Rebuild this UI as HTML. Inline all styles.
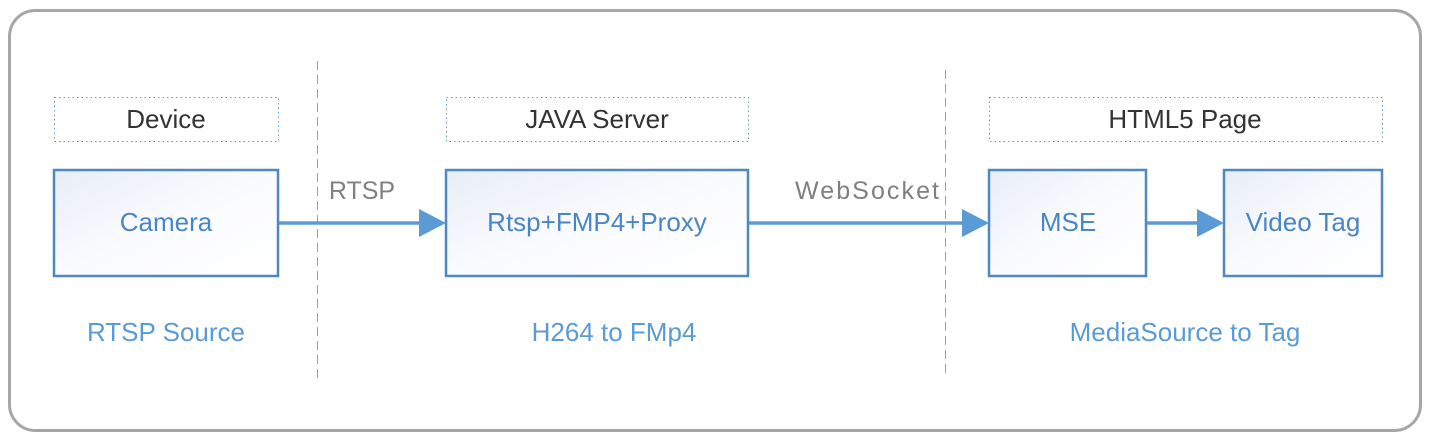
<!DOCTYPE html>
<html><head><meta charset="utf-8"><style>
html,body{margin:0;padding:0;background:#fff;}
svg{display:block;}
text{font-family:"Liberation Sans",sans-serif;}
</style></head><body>
<svg width="1437" height="444" viewBox="0 0 1437 444" xmlns="http://www.w3.org/2000/svg">
<defs>
<linearGradient id="g" x1="0" y1="0" x2="1" y2="1">
<stop offset="0" stop-color="#e8edf7"/><stop offset="0.5" stop-color="#fafbfe"/><stop offset="1" stop-color="#ffffff"/>
</linearGradient>
</defs>
<rect x="9.5" y="10.5" width="1411" height="420" rx="26" fill="#fff" stroke="#a6a6a6" stroke-width="3"/>
<line x1="317.5" y1="61" x2="317.5" y2="378" stroke="#a0a0a0" stroke-width="1" stroke-dasharray="9,5"/>
<line x1="945.5" y1="70" x2="945.5" y2="378" stroke="#a0a0a0" stroke-width="1" stroke-dasharray="9,5"/>
<g fill="none" stroke="#5b9bd5" stroke-width="1" stroke-dasharray="1.5,3">
<rect x="54.5" y="97.5" width="224" height="44"/>
<rect x="446.5" y="97.5" width="302" height="44"/>
<rect x="989.5" y="97.5" width="393" height="44"/>
</g>
<g fill="url(#g)" stroke="#4f88c2" stroke-width="2.5">
<rect x="54" y="170" width="224" height="106"/>
<rect x="446" y="170" width="302" height="106"/>
<rect x="989" y="170" width="157" height="106"/>
<rect x="1224" y="170" width="158" height="106"/>
</g>
<g stroke="#5b9bd5" stroke-width="3.5">
<line x1="279" y1="223" x2="422" y2="223"/>
<line x1="749" y1="223" x2="964" y2="223"/>
<line x1="1147" y1="223" x2="1200" y2="223"/>
</g>
<g fill="#5b9bd5">
<polygon points="419,209 446,223 419,237"/>
<polygon points="962,209 989,223 962,237"/>
<polygon points="1197,209 1224,223 1197,237"/>
</g>
<g font-size="26" fill="#333" text-anchor="middle">
<text x="166" y="128">Device</text>
<text x="597" y="128">JAVA Server</text>
<text x="1185" y="128">HTML5 Page</text>
</g>
<g font-size="26" fill="#4a86c5" text-anchor="middle">
<text x="166" y="231">Camera</text>
<text x="597" y="231">Rtsp+FMP4+Proxy</text>
<text x="1068" y="231">MSE</text>
<text x="1303" y="231">Video Tag</text>
</g>
<g font-size="25" fill="#808080" text-anchor="middle">
<text x="362" y="199">RTSP</text>
<text x="867" y="199" textLength="144">WebSocket</text>
</g>
<g font-size="26" fill="#5b9bd5" text-anchor="middle">
<text x="166" y="341">RTSP Source</text>
<text x="614" y="341">H264 to FMp4</text>
<text x="1185" y="341">MediaSource to Tag</text>
</g>
</svg>
</body></html>
